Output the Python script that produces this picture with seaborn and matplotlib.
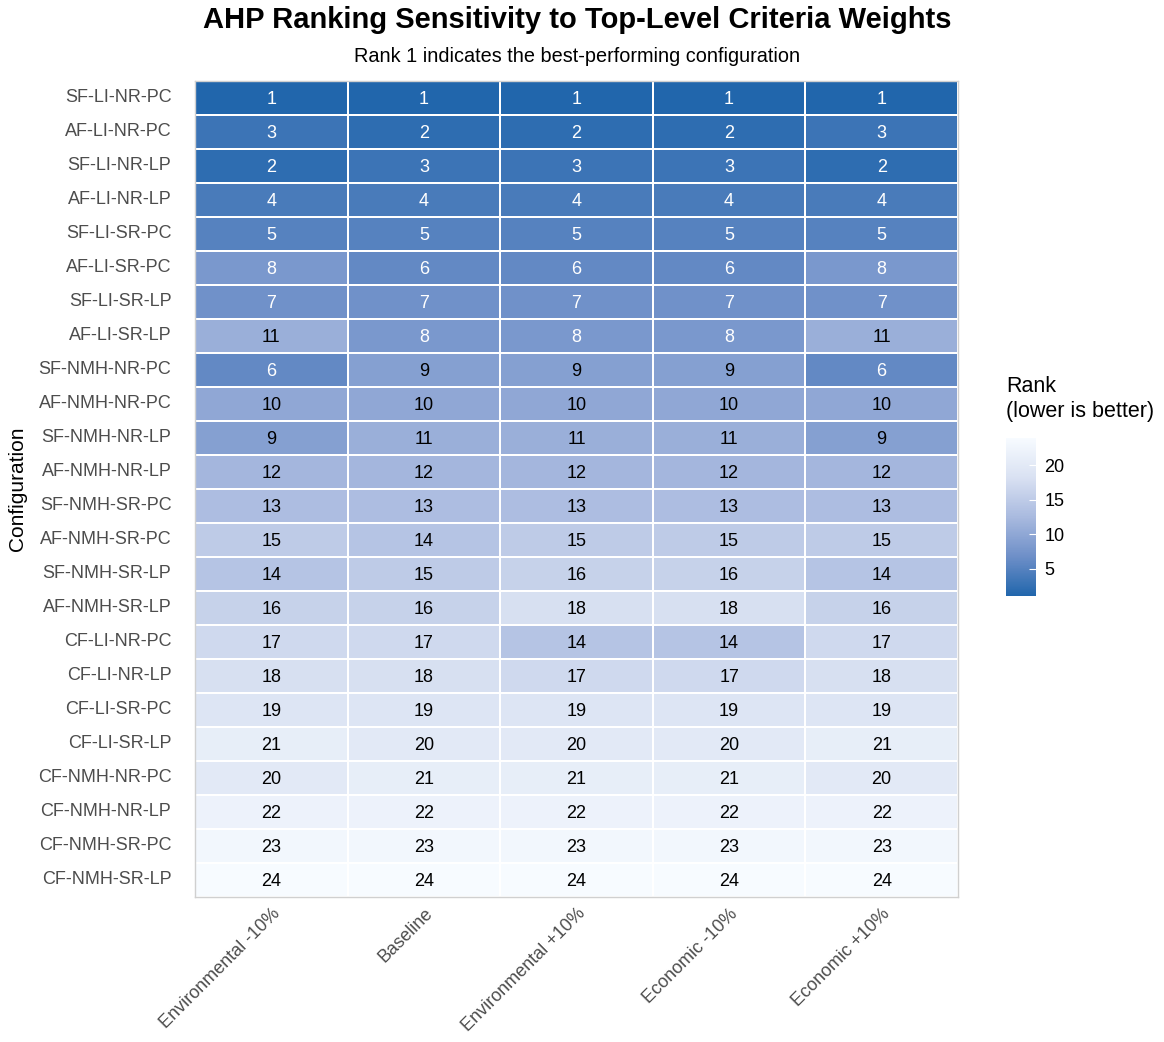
import numpy as np
import pandas as pd
import seaborn as sns
import matplotlib.pyplot as plt
from matplotlib.colors import LinearSegmentedColormap

# dados do ranking AHP
configs = ['SF-LI-NR-PC', 'AF-LI-NR-PC', 'SF-LI-NR-LP', 'AF-LI-NR-LP', 'SF-LI-SR-PC',
           'AF-LI-SR-PC', 'SF-LI-SR-LP', 'AF-LI-SR-LP', 'SF-NMH-NR-PC', 'AF-NMH-NR-PC',
           'SF-NMH-NR-LP', 'AF-NMH-NR-LP', 'SF-NMH-SR-PC', 'AF-NMH-SR-PC', 'SF-NMH-SR-LP',
           'AF-NMH-SR-LP', 'CF-LI-NR-PC', 'CF-LI-NR-LP', 'CF-LI-SR-PC', 'CF-LI-SR-LP',
           'CF-NMH-NR-PC', 'CF-NMH-NR-LP', 'CF-NMH-SR-PC', 'CF-NMH-SR-LP']
cenarios = ['Environmental -10%', 'Baseline', 'Environmental +10%', 'Economic -10%', 'Economic +10%']

env_menos = [1, 3, 2, 4, 5, 8, 7, 11, 6, 10, 9, 12, 13, 15, 14, 16, 17, 18, 19, 21, 20, 22, 23, 24]
baseline = [1, 2, 3, 4, 5, 6, 7, 8, 9, 10, 11, 12, 13, 14, 15, 16, 17, 18, 19, 20, 21, 22, 23, 24]
env_mais = [1, 2, 3, 4, 5, 6, 7, 8, 9, 10, 11, 12, 13, 15, 16, 18, 14, 17, 19, 20, 21, 22, 23, 24]
eco_menos = [1, 2, 3, 4, 5, 6, 7, 8, 9, 10, 11, 12, 13, 15, 16, 18, 14, 17, 19, 20, 21, 22, 23, 24]
eco_mais = [1, 3, 2, 4, 5, 8, 7, 11, 6, 10, 9, 12, 13, 15, 14, 16, 17, 18, 19, 21, 20, 22, 23, 24]

df = pd.DataFrame({'Environmental -10%': env_menos, 'Baseline': baseline,
                   'Environmental +10%': env_mais, 'Economic -10%': eco_menos,
                   'Economic +10%': eco_mais}, index=configs)[cenarios]

plt.rcParams['font.family'] = ['Liberation Sans', 'DejaVu Sans']

cmap = LinearSegmentedColormap.from_list('azul', ['#2166AC', '#6E8FC8', '#A9BADF', '#D9E1F2', '#F7FBFF'])

fig = plt.figure(figsize=(11.64, 10.42), dpi=100)
ax = fig.add_axes([0.1675, 0.1392, 0.6555, 0.7831])
cax = fig.add_axes([0.8643, 0.428, 0.0258, 0.1517])

sns.heatmap(df, ax=ax, cbar_ax=cax, cmap=cmap, vmin=1, vmax=24, annot=True, fmt='d',
            annot_kws={'fontsize': 13}, linewidths=1.2, linecolor='white')

# cor do texto: branco para os melhores ranks
for t in ax.texts:
    t.set_color('white' if int(t.get_text()) <= 8 else 'black')
    t.set_y(t.get_position()[1] + 0.05)

for s in ax.spines.values():
    s.set_visible(True)
    s.set_color('#D0D0D0')
    s.set_linewidth(1)

ax.tick_params(axis='y', length=0, labelsize=13, colors='#4D4D4D', pad=17)
ax.tick_params(axis='x', length=0, labelsize=13, colors='#4D4D4D', pad=6)
ax.set_yticklabels(configs, rotation=0)
ax.set_xticklabels(cenarios, rotation=45, ha='right', va='top', rotation_mode='anchor')
ax.set_xlabel('')
ax.set_ylabel('Configuration', fontsize=15, labelpad=8)

fig.suptitle('AHP Ranking Sensitivity to Top-Level Criteria Weights', x=0.4955, y=0.981,
             va='center', fontsize=21, fontweight='bold')
fig.text(0.4955, 0.946, 'Rank 1 indicates the best-performing configuration',
         ha='center', va='center', fontsize=14.3)

cbar = ax.collections[0].colorbar
cbar.outline.set_visible(False)
cbar.set_ticks([5, 10, 15, 20])
cbar.ax.tick_params(labelsize=13, length=5, color='white', direction='in', pad=6)
fig.text(0.8643, 0.595, 'Rank\n(lower is better)', ha='left', va='bottom', fontsize=15.5,
         linespacing=1.25)

fig.savefig('out.png', dpi=100)
